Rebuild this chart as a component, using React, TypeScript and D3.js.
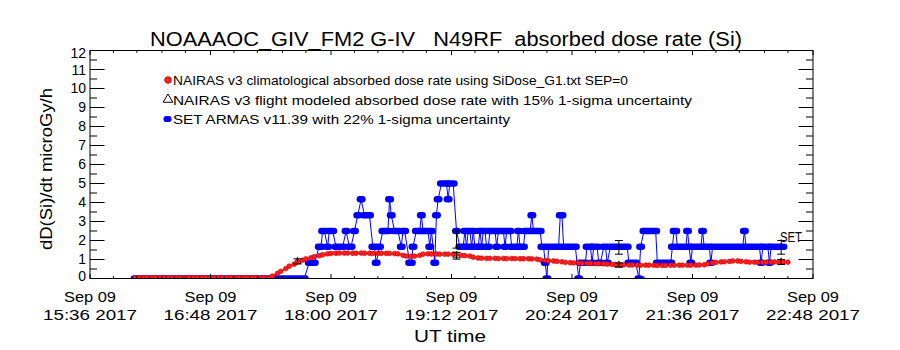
import React from "react";
import * as d3 from "d3";

// ---------- text ----------
const TITLE = "NOAAAOC_GIV_FM2 G-IV   N49RF  absorbed dose rate (Si)";
const Y_LABEL = "dD(Si)/dt microGy/h";
const X_LABEL = "UT time";
const LEGEND = [
  "NAIRAS v3 climatological absorbed dose rate using SiDose_G1.txt SEP=0",
  "NAIRAS v3 flight modeled absorbed dose rate with 15% 1-sigma uncertainty",
  "SET ARMAS v11.39 with 22% 1-sigma uncertainty",
];
const SET_TAG = "SET";

// ---------- axes ----------
const xDomain = ["15:36", "22:48"];
const xTickTimes = ["15:36", "16:48", "18:00", "19:12", "20:24", "21:36", "22:48"];
const xTickDay = "Sep 09";
const xTickYear = "2017";
const yDomain = [0, 12];
const yTicks = [0, 1, 2, 3, 4, 5, 6, 7, 8, 9, 10, 11, 12];

// ---------- NAIRAS climatological (sampled every 2.5 min from 16:03) ----------
const nairasStart = "16:03";
const nairasStepMin = 2.5;
const nairasClim = [
  0.04, 0.04, 0.04, 0.04, 0.04, 0.04, 0.04, 0.04, 0.04, 0.04, 0.04,
  0.04, 0.04, 0.04, 0.04, 0.04, 0.04, 0.04, 0.04, 0.04, 0.04, 0.04,
  0.04, 0.04, 0.04, 0.04, 0.04, 0.04, 0.04, 0.04, 0.04, 0.04, 0.04,
  0.13, 0.27, 0.38, 0.52, 0.65, 0.75, 0.87, 0.96, 1.03, 1.09, 1.15, 1.2, 1.25, 1.3, 1.32,
  1.33, 1.34, 1.34, 1.34, 1.33, 1.33, 1.34, 1.33, 1.33, 1.32, 1.32, 1.33, 1.32, 1.32, 1.31, 1.3,
  1.22, 1.18, 1.17, 1.18, 1.22, 1.28, 1.3, 1.29,
  1.29, 1.28, 1.28, 1.28, 1.27, 1.27,
  1.22, 1.2, 1.18, 1.12, 1.08,
  1.07, 1.06, 1.06, 1.06, 1.05, 1.05, 1.05, 1.05, 1.05, 1.04, 1.04, 1.04, 1.03, 1.02,
  0.98, 0.95, 0.93, 0.92, 0.9,
  0.88, 0.85, 0.83, 0.82,
  0.82, 0.8, 0.8, 0.79, 0.78, 0.78, 0.77, 0.76,
  0.74, 0.73, 0.72, 0.72, 0.71, 0.71, 0.7, 0.7, 0.7, 0.7, 0.7, 0.69, 0.69, 0.69, 0.7, 0.7, 0.7, 0.7, 0.7, 0.7, 0.7, 0.71,
  0.72, 0.77, 0.82, 0.85, 0.87, 0.88, 0.9, 0.92, 0.92, 0.9, 0.88, 0.86,
  0.86, 0.85, 0.85, 0.86, 0.86, 0.87, 0.87, 0.87, 0.86,
];

// ---------- NAIRAS flight modeled (with 15% 1-sigma) ----------
const flightTimes = ["17:40", "19:15", "20:52", "22:29"];
const flightValues = [0.9, 1.2, 0.71, 0.87];
const flightSigma = 0.15;

// ---------- SET ARMAS error bars (22% 1-sigma) ----------
const setErrTimes = ["19:15", "20:52", "22:29"];
const setErrValues = [2.05, 1.64, 1.64];
const setSigma = 0.22;

// ---------- SET ARMAS readings: runs [start, end, value] ----------
const setRuns: [string, string, number][] = [
  ["16:03", "17:44", 0], ["17:47", "17:50", 0.83], ["17:53", "17:54", 1.67], ["17:55", "17:56", 2.5],
  ["17:58", "17:58", 1.67], ["17:59", "18:01", 2.5], ["18:03", "18:07", 1.67], ["18:09", "18:09", 2.5],
  ["18:11", "18:12", 1.67], ["18:14", "18:14", 2.5], ["18:16", "18:16", 3.33], ["18:18", "18:18", 4.17],
  ["18:20", "18:23", 3.33], ["18:25", "18:26", 1.67], ["18:27", "18:27", 0.83], ["18:29", "18:29", 1.67],
  ["18:31", "18:34", 2.5], ["18:35", "18:35", 4.17], ["18:36", "18:36", 3.33], ["18:38", "18:40", 2.5],
  ["18:42", "18:42", 1.67], ["18:43", "18:44", 2.5], ["18:47", "18:48", 0.83], ["18:49", "18:49", 1.67],
  ["18:51", "18:53", 2.5], ["18:54", "18:54", 3.33], ["18:55", "18:58", 2.5], ["18:59", "18:59", 1.67],
  ["19:00", "19:00", 2.5], ["19:02", "19:02", 0.83], ["19:03", "19:03", 3.33], ["19:04", "19:04", 4.17],
  ["19:06", "19:09", 5.0], ["19:10", "19:10", 4.17], ["19:11", "19:13", 5.0], ["19:15", "19:15", 2.5],
  ["19:17", "19:19", 1.67], ["19:20", "19:20", 2.5], ["19:21", "19:21", 1.67], ["19:22", "19:23", 2.5],
  ["19:24", "19:24", 1.67], ["19:25", "19:25", 2.5], ["19:26", "19:28", 1.67], ["19:29", "19:29", 2.5],
  ["19:30", "19:30", 1.67], ["19:31", "19:32", 2.5], ["19:33", "19:34", 1.67], ["19:35", "19:38", 2.5],
  ["19:39", "19:39", 1.67], ["19:40", "19:43", 2.5], ["19:44", "19:44", 1.67], ["19:45", "19:47", 2.5],
  ["19:48", "19:51", 1.67], ["19:52", "19:52", 2.5], ["19:53", "19:55", 1.67], ["19:56", "19:59", 2.5],
  ["20:00", "20:00", 3.33], ["20:01", "20:05", 2.5], ["20:06", "20:07", 1.67], ["20:08", "20:08", 0.83],
  ["20:09", "20:09", 0], ["20:10", "20:16", 1.67], ["20:17", "20:18", 3.33], ["20:19", "20:26", 1.67],
  ["20:28", "20:28", 0], ["20:29", "20:32", 0.83], ["20:33", "20:35", 1.67], ["20:36", "20:36", 0.83],
  ["20:37", "20:39", 1.67], ["20:40", "20:41", 0.83], ["20:43", "20:44", 1.67], ["20:45", "20:45", 0.83],
  ["20:47", "20:57", 1.67], ["20:58", "21:02", 0.83], ["21:04", "21:04", 0], ["21:05", "21:05", 1.67],
  ["21:07", "21:14", 2.5], ["21:15", "21:23", 0.83], ["21:24", "21:24", 1.67], ["21:25", "21:26", 2.5],
  ["21:27", "21:32", 1.67], ["21:33", "21:33", 2.5], ["21:34", "21:34", 1.67], ["21:35", "21:35", 0.83],
  ["21:36", "21:41", 1.67], ["21:42", "21:42", 2.5], ["21:43", "21:46", 1.67], ["21:47", "21:47", 0.83],
  ["21:48", "22:06", 1.67], ["22:07", "22:07", 2.5], ["22:08", "22:16", 1.67], ["22:17", "22:17", 0.83],
  ["22:18", "22:21", 1.67], ["22:22", "22:22", 0.83], ["22:23", "22:30", 1.67],
];

// ---------- helpers ----------
const toDate = (hm: string, extraMin = 0) => {
  const [h, m] = hm.split(":").map(Number);
  return new Date(2017, 8, 9, h, m + extraMin);
};

const W = 900;
const H = 350;
const L = 90;
const R = 813;
const T = 50.5;
const B = 278.5;
const FONT = "'Liberation Sans', Arial, sans-serif";
const BLUE = "#0000ff";
const RED = "#ff1e1e";

export default function App() {
  const x = d3.scaleTime().domain(xDomain.map((s) => toDate(s))).range([L, R]);
  const y = d3.scaleLinear().domain(yDomain).range([B, T]);

  // minor x ticks (5 intervals per major)
  const xMinor: Date[] = [];
  for (let i = 0; i < xTickTimes.length - 1; i++) {
    for (let k = 1; k < 5; k++) xMinor.push(toDate(xTickTimes[i], (72 / 5) * k));
  }
  const yMinor = yTicks.slice(0, -1).map((v) => v + 0.5);

  // SET line through run endpoints
  const setPts: [Date, number][] = [];
  setRuns.forEach(([s, e, v]) => {
    setPts.push([toDate(s), v]);
    setPts.push([toDate(e), v]);
  });
  const setLine = d3
    .line<[Date, number]>()
    .x((d) => x(d[0]))
    .y((d) => y(d[1]));

  const nairasPts = nairasClim.map((v, i) => ({ t: toDate(nairasStart, i * nairasStepMin), v }));
  const nairasLine = d3
    .line<{ t: Date; v: number }>()
    .x((d) => x(d.t))
    .y((d) => y(d.v));

  const tri = d3.symbol().type(d3.symbolTriangle).size(22);

  const errBar = (cx: number, lo: number, hi: number, key: string) => (
    <g key={key} stroke="#000" strokeWidth={1}>
      <line x1={cx} x2={cx} y1={lo} y2={hi} />
      <line x1={cx - 4} x2={cx + 4} y1={lo} y2={lo} />
      <line x1={cx - 4} x2={cx + 4} y1={hi} y2={hi} />
    </g>
  );

  const yLabelPos = (v: number) => {
    if (v === 12) return 53.5;
    if (v === 11) return 70.5;
    if (v === 0) return 276;
    return y(v);
  };

  return (
    <svg
      width={W}
      height={H}
      style={{ position: "absolute", left: 0, top: 0, background: "#fff" }}
      fontFamily={FONT}
    >
      <defs>
        <clipPath id="plot">
          <rect x={L} y={T} width={R - L} height={B - T} />
        </clipPath>
      </defs>
      <rect x={0} y={0} width={W} height={H} fill="#fff" />

      {/* title */}
      <text
        x={446}
        y={46}
        textAnchor="middle"
        fontSize={20}
        textLength={592}
        lengthAdjust="spacingAndGlyphs"
        style={{ whiteSpace: "pre" }}
      >
        {TITLE}
      </text>

      {/* data */}
      <g clipPath="url(#plot)">
        {/* SET ARMAS */}
        <path d={setLine(setPts) || ""} fill="none" stroke={BLUE} strokeWidth={1} />
        {setRuns.map(([s, e, v], i) => {
          const x0 = x(toDate(s));
          const x1 = x(toDate(e));
          return (
            <rect
              key={"r" + i}
              x={x0 - 4.5}
              y={y(v) - 3.3}
              width={x1 - x0 + 9}
              height={6.6}
              rx={3.2}
              ry={3.2}
              fill={BLUE}
            />
          );
        })}

        {/* NAIRAS flight modeled (triangles) */}
        {flightTimes.map((t, i) => (
          <path
            key={"ft" + i}
            d={tri() || ""}
            transform={`translate(${x(toDate(t))},${y(flightValues[i])})`}
            fill="none"
            stroke="#000"
            strokeWidth={0.8}
          />
        ))}

        {/* NAIRAS climatological */}
        <path d={nairasLine(nairasPts) || ""} fill="none" stroke="#c00000" strokeWidth={1} />
        {nairasPts.map((d, i) => (
          <circle
            key={"n" + i}
            cx={x(d.t)}
            cy={y(d.v)}
            r={2.4}
            fill={RED}
            stroke="#c80000"
            strokeWidth={0.6}
          />
        ))}

        {/* error bars */}
        {flightTimes.map((t, i) =>
          errBar(
            x(toDate(t)),
            y(flightValues[i] * (1 - flightSigma)),
            y(flightValues[i] * (1 + flightSigma)),
            "fe" + i
          )
        )}
        {setErrTimes.map((t, i) =>
          errBar(
            x(toDate(t)),
            y(setErrValues[i] * (1 - setSigma)),
            y(setErrValues[i] * (1 + setSigma)),
            "se" + i
          )
        )}
      </g>

      {/* SET tag at right end */}
      <text x={780} y={242} fontSize={14} textLength={22} lengthAdjust="spacingAndGlyphs">
        {SET_TAG}
      </text>

      {/* frame */}
      <rect x={L} y={T} width={R - L} height={B - T} fill="none" stroke="#000" strokeWidth={1} />

      {/* ticks */}
      <g stroke="#000" strokeWidth={1}>
        {yTicks.map((v) => (
          <g key={"yt" + v}>
            <line x1={L} x2={L + 14.5} y1={y(v)} y2={y(v)} />
            <line x1={R} x2={R - 14.5} y1={y(v)} y2={y(v)} />
          </g>
        ))}
        {yMinor.map((v) => (
          <g key={"ym" + v}>
            <line x1={L} x2={L + 7} y1={y(v)} y2={y(v)} />
            <line x1={R} x2={R - 7} y1={y(v)} y2={y(v)} />
          </g>
        ))}
        {xTickTimes.map((t) => {
          const xx = x(toDate(t));
          return (
            <g key={"xt" + t}>
              <line x1={xx} x2={xx} y1={B} y2={B - 4.6} />
              <line x1={xx} x2={xx} y1={T} y2={T + 4.6} />
            </g>
          );
        })}
        {xMinor.map((d, i) => {
          const xx = x(d);
          return (
            <g key={"xm" + i}>
              <line x1={xx} x2={xx} y1={B} y2={B - 2.3} />
              <line x1={xx} x2={xx} y1={T} y2={T + 2.3} />
            </g>
          );
        })}
      </g>

      {/* y tick labels */}
      {yTicks.map((v) => (
        <text
          key={"yl" + v}
          x={86}
          y={yLabelPos(v)}
          dy="0.35em"
          textAnchor="end"
          fontSize={14}
        >
          {v}
        </text>
      ))}

      {/* x tick labels */}
      {xTickTimes.map((t) => {
        const xx = x(toDate(t));
        return (
          <g key={"xl" + t}>
            <text x={xx} y={302} textAnchor="middle" fontSize={15.5} textLength={52} lengthAdjust="spacingAndGlyphs">
              {xTickDay}
            </text>
            <text x={xx} y={320} textAnchor="middle" fontSize={15.5} textLength={94} lengthAdjust="spacingAndGlyphs">
              {`${t} ${xTickYear}`}
            </text>
          </g>
        );
      })}

      {/* axis titles */}
      <text x={450} y={342} textAnchor="middle" fontSize={16} textLength={72} lengthAdjust="spacingAndGlyphs">
        {X_LABEL}
      </text>
      <text
        transform="translate(52,169) rotate(-90)"
        textAnchor="middle"
        fontSize={16}
        textLength={162}
        lengthAdjust="spacingAndGlyphs"
      >
        {Y_LABEL}
      </text>

      {/* legend */}
      <g fontSize={13.5}>
        <circle cx={168} cy={80} r={3.3} fill={RED} stroke="#c80000" strokeWidth={0.8} />
        <text x={173} y={85} textLength={455} lengthAdjust="spacingAndGlyphs">
          {LEGEND[0]}
        </text>
        <path
          d={d3.symbol().type(d3.symbolTriangle).size(40)() || ""}
          transform="translate(168,99.5)"
          fill="none"
          stroke="#000"
          strokeWidth={1}
        />
        <text x={173} y={105} textLength={519} lengthAdjust="spacingAndGlyphs">
          {LEGEND[1]}
        </text>
        <rect x={163.5} y={116} width={8} height={6} rx={2.8} fill={BLUE} />
        <text x={173} y={124} textLength={337} lengthAdjust="spacingAndGlyphs">
          {LEGEND[2]}
        </text>
      </g>
    </svg>
  );
}
